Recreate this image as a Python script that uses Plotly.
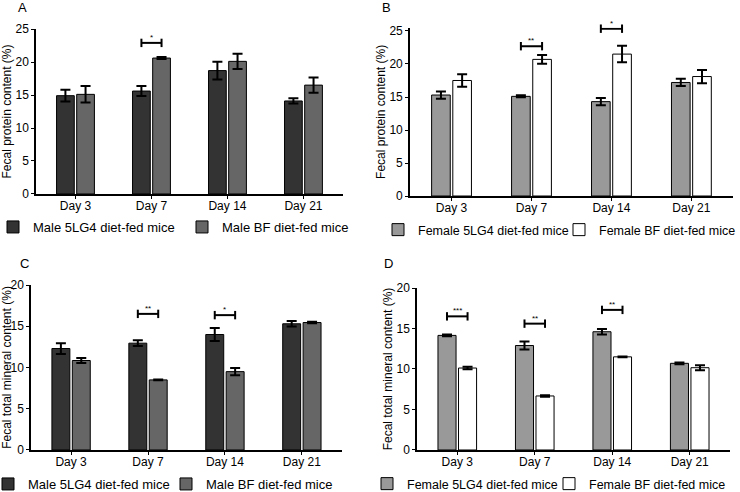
import plotly.graph_objects as go

days = ["Day 3", "Day 7", "Day 14", "Day 21"]

# Panel A: fecal protein, male
a_5lg4 = [14.9, 15.6, 18.7, 14.1]
a_5lg4_err = [0.9, 0.75, 1.35, 0.4]
a_bf = [15.1, 20.6, 20.1, 16.5]
a_bf_err = [1.25, 0.15, 1.15, 1.15]

# Panel B: fecal protein, female
b_5lg4 = [15.3, 15.1, 14.3, 17.2]
b_5lg4_err = [0.55, 0.15, 0.55, 0.55]
b_bf = [17.5, 20.7, 21.5, 18.1]
b_bf_err = [0.95, 0.65, 1.25, 1.0]

# Panel C: fecal total mineral, male
c_5lg4 = [12.3, 12.95, 14.0, 15.3]
c_5lg4_err = [0.65, 0.35, 0.8, 0.33]
c_bf = [10.85, 8.5, 9.5, 15.45]
c_bf_err = [0.3, 0.05, 0.45, 0.1]

# Panel D: fecal total mineral, female
d_5lg4 = [14.15, 12.9, 14.6, 10.7]
d_5lg4_err = [0.1, 0.5, 0.33, 0.1]
d_bf = [10.12, 6.67, 11.5, 10.16]
d_bf_err = [0.15, 0.1, 0.05, 0.3]

# significance brackets: (day index, y level, label)
a_sig = [(1, 22.9, "*")]
b_sig = [(1, 22.7, "**"), (2, 25.35, "*")]
c_sig = [(1, 16.5, "**"), (2, 16.35, "*")]
d_sig = [(0, 16.5, "***"), (1, 15.6, "**"), (2, 17.3, "**")]

FONT = "Liberation Sans, Arial, sans-serif"
BARGAP = 0.47
GROUPGAP = 0.12
W, H = 740, 492

panels = [
    dict(key="A", x="x", y="y", s1=a_5lg4, e1=a_5lg4_err, s2=a_bf, e2=a_bf_err,
         sig=a_sig, c1="#333333", c2="#666666",
         n1="Male 5LG4 diet-fed mice", n2="Male BF diet-fed mice",
         xdom=[0.0486, 0.4635], ydom=[0.6057, 0.941], ymax=25, yrng=25, dtick=5,
         ytitle="Fecal protein content (%)", lab=(22, 7),
         legx=(33, 222), legy=227, lfs=13),
    dict(key="B", x="x2", y="y2", s1=b_5lg4, e1=b_5lg4_err, s2=b_bf, e2=b_bf_err,
         sig=b_sig, c1="#999999", c2="#ffffff",
         n1="Female 5LG4 diet-fed mice", n2="Female BF diet-fed mice",
         xdom=[0.554, 0.9905], ydom=[0.6016, 0.9437], ymax=25, yrng=25.5, dtick=5,
         ytitle="Fecal protein content (%)", lab=(386, 7),
         legx=(418, 599), legy=230, lfs=12.5),
    dict(key="C", x="x3", y="y3", s1=c_5lg4, e1=c_5lg4_err, s2=c_bf, e2=c_bf_err,
         sig=c_sig, c1="#333333", c2="#666666",
         n1="Male 5LG4 diet-fed mice", n2="Male BF diet-fed mice",
         xdom=[0.042, 0.462], ydom=[0.0854, 0.4207], ymax=20, yrng=20, dtick=5,
         ytitle="Fecal total mineral content (%)", lab=(24, 263),
         legx=(28, 206), legy=484, lfs=13),
    dict(key="D", x="x4", y="y4", s1=d_5lg4, e1=d_5lg4_err, s2=d_bf, e2=d_bf_err,
         sig=d_sig, c1="#999999", c2="#ffffff",
         n1="Female 5LG4 diet-fed mice", n2="Female BF diet-fed mice",
         xdom=[0.5635, 0.9865], ydom=[0.0854, 0.4146], ymax=20, yrng=20, dtick=5,
         ytitle="Fecal total mineral content (%)", lab=(388, 263),
         legx=(407, 589), legy=484, lfs=12.5),
]

TEXT_OFFSET = 40  # plotly legend text starts this many px right of the legend's left edge

fig = go.Figure()
idx = list(range(len(days)))
off = (1 - BARGAP) / 4

annotations = []
layout = {}
for i, p in enumerate(panels):
    sfx = "" if i == 0 else str(i + 1)
    series = [(p["n1"], p["s1"], p["e1"], p["c1"]), (p["n2"], p["s2"], p["e2"], p["c2"])]
    for j, (name, vals, errs, col) in enumerate(series):
        n = 2 * i + j + 1
        legname = "legend" if n == 1 else "legend%d" % n
        fig.add_trace(go.Bar(
            x=idx, y=vals, name=name, xaxis=p["x"], yaxis=p["y"], legend=legname,
            marker=dict(color=col, line=dict(color="black", width=1)),
            error_y=dict(type="data", array=errs, visible=True, color="black",
                         thickness=2, width=5),
        ))
        layout[legname] = dict(
            orientation="h", x=(p["legx"][j] - TEXT_OFFSET) / W, y=1 - p["legy"] / H,
            xanchor="left", yanchor="middle",
            xref="paper", yref="paper", font=dict(size=p["lfs"], color="black", family=FONT),
            bgcolor="rgba(0,0,0,0)", itemwidth=30,
        )
    for (di, yv, lab) in p["sig"]:
        fig.add_trace(go.Scatter(
            x=[di - off, di + off], y=[yv, yv], mode="lines+markers",
            xaxis=p["x"], yaxis=p["y"], showlegend=False, hoverinfo="skip",
            cliponaxis=False,
            line=dict(color="black", width=2),
            marker=dict(symbol="line-ns", size=6, line=dict(color="black", width=2)),
        ))
        annotations.append(dict(x=di, y=yv, xref=p["x"], yref=p["y"], text=lab,
                                showarrow=False, yanchor="bottom", yshift=-1,
                                font=dict(size=8, color="black", family=FONT)))
    layout["xaxis" + sfx] = dict(
        domain=p["xdom"], anchor=p["y"], range=[-0.52, 3.52],
        tickvals=idx, ticktext=days, showline=True, linecolor="black", linewidth=1.5,
        ticks="outside", ticklen=3, tickcolor="black", showgrid=False, zeroline=False,
        ticklabelstandoff=-3,
        tickfont=dict(size=12, color="black", family=FONT),
    )
    layout["yaxis" + sfx] = dict(
        domain=p["ydom"], anchor=p["x"], range=[0, p["yrng"]],
        tickvals=list(range(0, p["ymax"] + 1, p["dtick"])),
        showline=True, linecolor="black", linewidth=1.5, ticks="outside", ticklen=3,
        tickcolor="black", showgrid=False, zeroline=False,
        tickfont=dict(size=12, color="black", family=FONT),
        title=dict(text=p["ytitle"], font=dict(size=12, color="black", family=FONT), standoff=1),
    )
    annotations.append(dict(x=p["lab"][0] / W, y=1 - p["lab"][1] / H, xref="paper", yref="paper",
                            text=p["key"], showarrow=False, xanchor="center", yanchor="middle",
                            font=dict(size=13, color="black", family=FONT)))

fig.update_layout(
    width=W, height=H, margin=dict(l=0, r=0, t=0, b=0, autoexpand=False),
    paper_bgcolor="white", plot_bgcolor="white",
    barmode="group", bargap=BARGAP, bargroupgap=GROUPGAP,
    annotations=annotations, font=dict(family=FONT, color="black"),
    **layout,
)

fig.write_html("out.html", config={"displayModeBar": False},
               post_script="document.body.style.margin='0';")
